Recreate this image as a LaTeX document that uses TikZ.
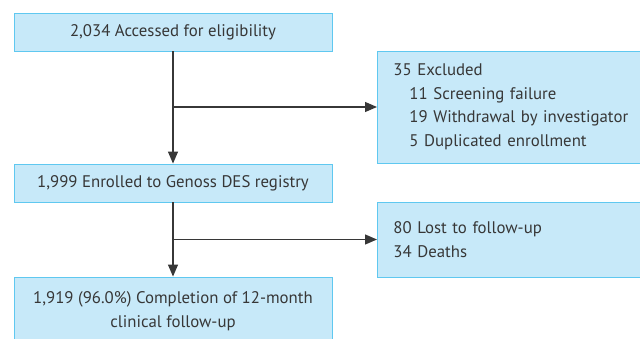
\documentclass[tikz,border=0pt]{standalone}
\usepackage{fontspec}
\setmainfont{PT Sans}
\usetikzlibrary{arrows.meta}
\definecolor{boxfill}{RGB}{199,233,249}
\definecolor{boxline}{RGB}{95,200,240}
\definecolor{inkgray}{RGB}{55,55,55}
\tikzset{
  flowbox/.style={rectangle, draw=boxline, fill=boxfill, line width=0.9pt, text=inkgray,
    minimum width=318pt, minimum height=38pt, inner sep=0pt, align=center,
    font=\fontsize{16.8}{24.5}\selectfont},
  sidebox/.style={rectangle, draw=boxline, fill=boxfill, line width=0.9pt, text=inkgray,
    anchor=west, minimum width=280pt, inner xsep=16pt, inner ysep=0pt, text width=248pt,
    align=left, font=\fontsize{16.8}{23.5}\selectfont},
  flowarrow/.style={line width=1.2pt, inkgray, -{Triangle[length=12pt,width=10pt]}}
}
\begin{document}
\begin{tikzpicture}[x=1pt, y=-1pt]
  \useasboundingbox (0,0) rectangle (640,339);
  \clip (0,0) rectangle (640,339);

  \node[flowbox] (assess) at (173,32) {2,034 Accessed for eligibility};
  \node[flowbox] (enrol) at (173,183) {1,999 Enrolled to Genoss DES registry};
  \node[flowbox, minimum height=68pt] (complete) at (173,311)
    {1,919 (96.0\%) Completion of 12-month\\clinical follow-up};
  \node[sidebox, minimum height=112pt] (excl) at (377,107)
    {35 Excluded\\
     \hspace*{16pt}11 Screening failure\\
     \hspace*{16pt}19 Withdrawal by investigator\\
     \hspace*{16pt}5 Duplicated enrollment};
  \node[sidebox, minimum height=75pt] (lost) at (377,239.5)
    {80 Lost to follow-up\\34 Deaths};

  \coordinate (split1) at (assess.south |- excl.west);
  \coordinate (split2) at (enrol.south |- lost.west);

  \draw[flowarrow] (assess.south) -- (enrol.north);
  \draw[flowarrow] (split1) -- (excl.west);
  \draw[flowarrow] (enrol.south) -- (complete.north);
  \draw[flowarrow] (split2) -- (lost.west);
\end{tikzpicture}
\end{document}
